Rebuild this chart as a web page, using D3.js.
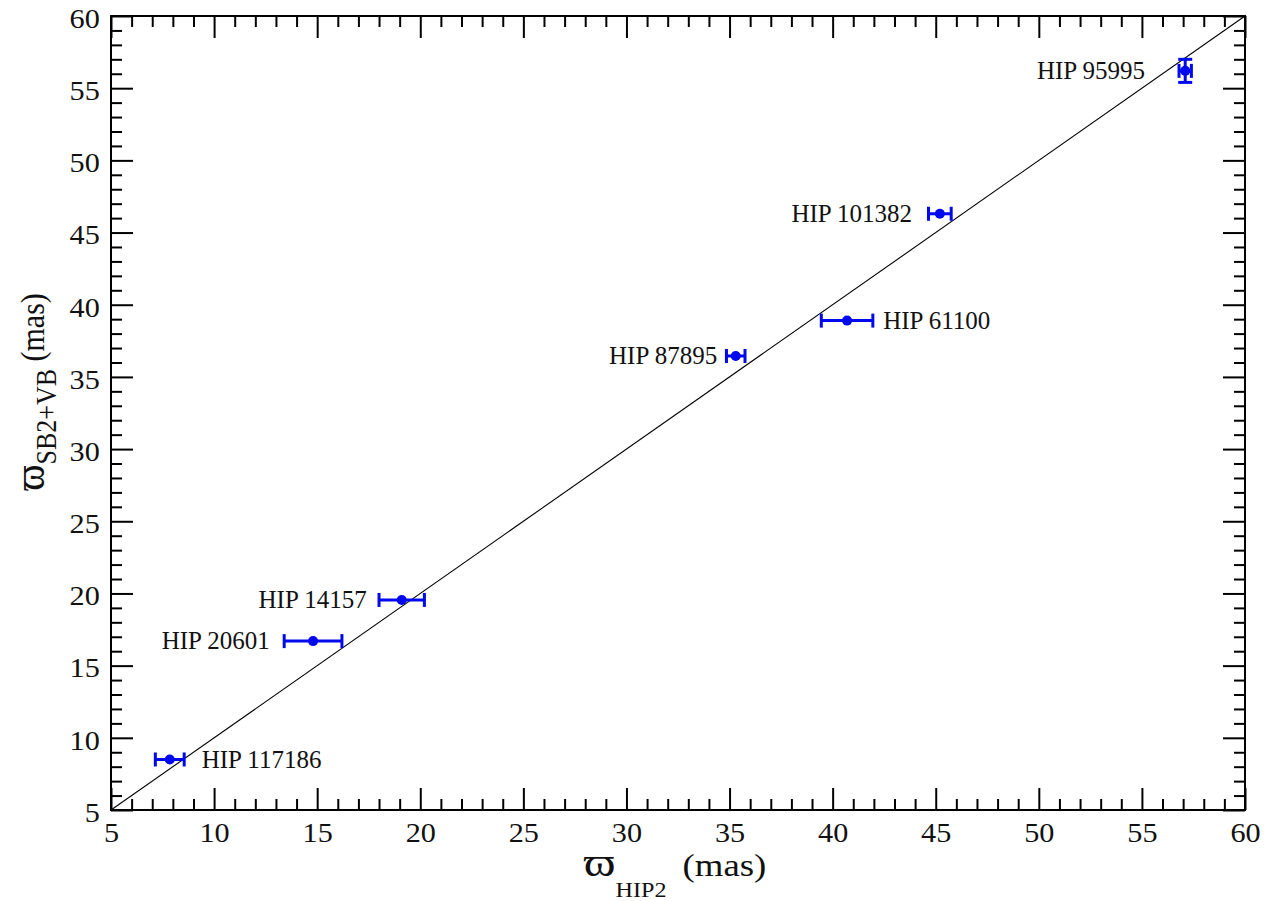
<!DOCTYPE html>
<html>
<head>
<meta charset="utf-8">
<script src="https://cdn.jsdelivr.net/npm/d3@7"></script>
<style>
  html, body { margin: 0; padding: 0; background: #fff; }
  svg { display: block; }
  text { font-family: "Liberation Serif", "DejaVu Serif", serif; fill: #111; }
</style>
</head>
<body>
<svg id="chart" width="1268" height="901"></svg>
<script>
// Star names
const names = ["HIP 95995", "HIP 101382", "HIP 61100", "HIP 87895", "HIP 14157", "HIP 20601", "HIP 117186"];
// Hipparcos (new reduction) parallax and its error, mas
const plxHip = [57.1, 45.2, 40.7, 35.3, 19.1, 14.8, 7.85];
const errHip = [0.3, 0.55, 1.25, 0.45, 1.1, 1.4, 0.7];
// Orbital parallax from SB2 + visual binary solution, mas
const plxOrb = [56.2, 46.3, 38.9, 36.45, 19.55, 16.7, 8.5];
const errOrb = [0.8, 0, 0, 0, 0, 0, 0];
// Label side and the x value (mas) where each label ends / starts
const labelSide = ["left", "left", "right", "left", "left", "left", "right"];
const labelAt = [55.15, 43.85, 42.45, 34.4, 17.4, 12.7, 9.4];
// Axis ticks
const majorTicks = [5, 10, 15, 20, 25, 30, 35, 40, 45, 50, 55, 60];
const minorTicks = d3.range(5, 61, 1);

const svg = d3.select("#chart");
const m = { left: 111, top: 16, right: 23, bottom: 91 };
const W = 1268 - m.left - m.right;
const H = 901 - m.top - m.bottom;

const x = d3.scaleLinear().domain([5, 60]).range([0, W]);
const y = d3.scaleLinear().domain([5, 60]).range([H, 0]);

const g = svg.append("g").attr("transform", `translate(${m.left},${m.top})`);

// one-to-one line
g.append("line")
  .attr("x1", x(5)).attr("y1", y(5))
  .attr("x2", x(60)).attr("y2", y(60))
  .attr("stroke", "#000").attr("stroke-width", 1.1);

// ticks on all four sides, pointing inward
function tickAxis(axisFn, scale, transform, size, values) {
  const a = g.append("g").attr("transform", transform)
    .call(axisFn(scale).tickValues(values).tickSize(size).tickFormat(""));
  a.select(".domain").remove();
  a.selectAll(".tick line").attr("stroke", "#000").attr("stroke-width", 2);
  return a;
}
const minorOnly = minorTicks.filter(v => v % 5 !== 0);
tickAxis(d3.axisTop, x, `translate(0,${H})`, 11, minorOnly);
tickAxis(d3.axisTop, x, `translate(0,${H})`, 22, majorTicks);
tickAxis(d3.axisBottom, x, `translate(0,0)`, 11, minorOnly);
tickAxis(d3.axisBottom, x, `translate(0,0)`, 22, majorTicks);
tickAxis(d3.axisRight, y, `translate(0,0)`, 11, minorOnly);
tickAxis(d3.axisRight, y, `translate(0,0)`, 22, majorTicks);
tickAxis(d3.axisLeft, y, `translate(${W},0)`, 11, minorOnly);
tickAxis(d3.axisLeft, y, `translate(${W},0)`, 22, majorTicks);

// tick labels (slightly wide digits)
const xl = g.append("g").attr("transform", `translate(0,${H})`)
  .call(d3.axisBottom(x).tickValues(majorTicks).tickSize(0).tickPadding(13).tickFormat(d3.format("d")));
xl.select(".domain").remove();
xl.selectAll("text").attr("font-size", 27).attr("font-family", "Liberation Serif").attr("fill", "#111")
  .attr("transform", "scale(1.12,1)");

const yl = g.append("g")
  .call(d3.axisLeft(y).tickValues(majorTicks).tickSize(0).tickPadding(10).tickFormat(d3.format("d")));
yl.select(".domain").remove();
yl.selectAll("text").attr("font-size", 27).attr("font-family", "Liberation Serif").attr("fill", "#111")
  .attr("dy", "0.42em").attr("transform", "scale(1.12,1)");

// frame
g.append("rect").attr("x", 0).attr("y", 0).attr("width", W).attr("height", H)
  .attr("fill", "none").attr("stroke", "#000").attr("stroke-width", 2);

// data points with error bars
const blue = "#0008ee";
const cap = 7;
const pts = g.append("g");
names.forEach((n, i) => {
  const cx = x(plxHip[i]), cy = y(plxOrb[i]);
  const p = pts.append("g").attr("stroke", blue).attr("stroke-width", 3).attr("fill", blue);
  if (errHip[i] > 0) {
    const x0 = x(plxHip[i] - errHip[i]), x1 = x(plxHip[i] + errHip[i]);
    p.append("line").attr("x1", x0).attr("x2", x1).attr("y1", cy).attr("y2", cy);
    p.append("line").attr("x1", x0).attr("x2", x0).attr("y1", cy - cap).attr("y2", cy + cap);
    p.append("line").attr("x1", x1).attr("x2", x1).attr("y1", cy - cap).attr("y2", cy + cap);
  }
  if (errOrb[i] > 0) {
    const y0 = y(plxOrb[i] - errOrb[i]), y1 = y(plxOrb[i] + errOrb[i]);
    p.append("line").attr("x1", cx).attr("x2", cx).attr("y1", y0).attr("y2", y1);
    p.append("line").attr("x1", cx - cap).attr("x2", cx + cap).attr("y1", y0).attr("y2", y0);
    p.append("line").attr("x1", cx - cap).attr("x2", cx + cap).attr("y1", y1).attr("y2", y1);
  }
  p.append("circle").attr("cx", cx).attr("cy", cy).attr("r", 5).attr("stroke", "none");

  g.append("text")
    .attr("x", x(labelAt[i]))
    .attr("y", cy)
    .attr("dy", "0.33em")
    .attr("text-anchor", labelSide[i] === "left" ? "end" : "start")
    .attr("font-size", 25)
    .text(n);
});

// axis titles
const xt = svg.append("text")
  .attr("transform", `translate(${m.left + W / 2 - 3},876) scale(1.15,1)`)
  .attr("text-anchor", "middle")
  .attr("font-size", 32);
xt.append("tspan").attr("font-size", 42).text("\u03D6");
xt.append("tspan").attr("font-size", 21).attr("dy", 21).text("HIP2");
xt.append("tspan").attr("dy", -21).attr("dx", 6).text(" (mas)");

const yt = svg.append("text")
  .attr("transform", `translate(44,392) scale(1.12,1) rotate(-90)`)
  .attr("text-anchor", "middle")
  .attr("font-size", 30);
yt.append("tspan").attr("font-size", 40).text("\u03D6");
yt.append("tspan").attr("font-size", 26).attr("dy", 11).text("SB2+VB");
yt.append("tspan").attr("dy", -11).text(" (mas)");
</script>
</body>
</html>
